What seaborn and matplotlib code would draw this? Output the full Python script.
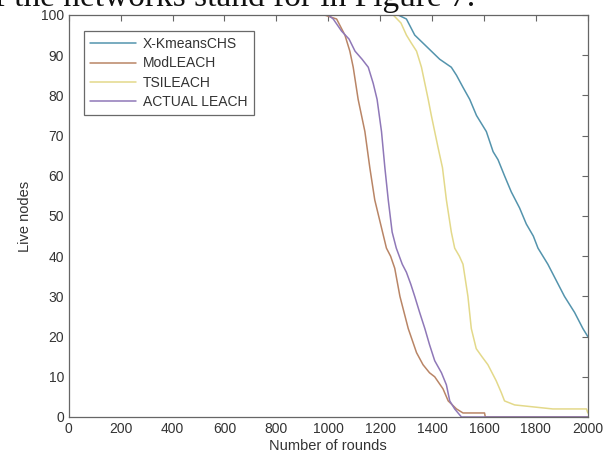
"""Live nodes per round for the four LEACH variants."""

import matplotlib
matplotlib.use("Agg")
import matplotlib.pyplot as plt
import pandas as pd
import seaborn as sns

SERIES = ["X-KmeansCHS", "ModLEACH", "TSILEACH", "ACTUAL LEACH"]
COLORS = ["#5494ad", "#b98566", "#e3d98a", "#8f78b8"]

kmeans_rounds = [0, 1269, 1301, 1333, 1365, 1397, 1429, 1474, 1494, 1519, 1545, 1571, 1609,
                 1635, 1654, 1679, 1705, 1737, 1763, 1790, 1808, 1846, 1878, 1910, 1949, 1981, 2000]
kmeans_nodes = [100, 100, 99, 95, 93, 91, 89, 87, 85, 82, 79, 75, 71,
                66, 64, 60, 56, 52, 48, 45, 42, 38, 34, 30, 26, 22, 20]

mod_rounds = [0, 985, 1032, 1064, 1083, 1096, 1115, 1141, 1160, 1179, 1209, 1224, 1240,
              1256, 1276, 1292, 1308, 1340, 1365, 1390, 1410, 1442, 1462, 1494, 1519, 1602, 1605, 2000]
mod_nodes = [100, 100, 99, 95, 91, 87, 79, 71, 62, 54, 46, 42, 40,
             37, 30, 26, 22, 16, 13, 11, 10, 7, 4, 2, 1, 1, 0, 0]

tsi_rounds = [0, 1250, 1280, 1301, 1320, 1340, 1359, 1372, 1385, 1397, 1410, 1423, 1440,
              1455, 1474, 1487, 1505, 1519, 1538, 1551, 1570, 1592, 1615, 1647, 1667, 1679,
              1718, 1865, 1995, 2000]
tsi_nodes = [100, 100, 98, 95, 93, 91, 87, 83, 79, 75, 71, 67, 62,
             54, 46, 42, 40, 38, 30, 22, 17, 15, 13, 9, 6, 4,
             3, 2, 2, 1]

actual_rounds = [0, 1000, 1019, 1051, 1080, 1103, 1130, 1154, 1173, 1188, 1205, 1218, 1231,
                 1246, 1262, 1285, 1301, 1318, 1333, 1352, 1372, 1390, 1410, 1436, 1455, 1468,
                 1487, 1500, 1513, 2000]
actual_nodes = [100, 100, 99, 96, 94, 91, 89, 87, 83, 79, 71, 62, 54,
                46, 42, 38, 36, 33, 30, 26, 22, 18, 14, 11, 8, 4,
                2, 1, 0, 0]

frames = []
for name, r, n in zip(SERIES,
                      [kmeans_rounds, mod_rounds, tsi_rounds, actual_rounds],
                      [kmeans_nodes, mod_nodes, tsi_nodes, actual_nodes]):
    frames.append(pd.DataFrame({"round": r, "nodes": n, "protocol": name}))
df = pd.concat(frames, ignore_index=True)

sns.set_style("white")
plt.rcParams["font.family"] = ["Liberation Sans", "DejaVu Sans"]

fig = plt.figure(figsize=(6.06, 4.68), dpi=100)
ax = fig.add_axes([0.1135, 0.109, 0.8565, 0.859])

sns.lineplot(data=df, x="round", y="nodes", hue="protocol", hue_order=SERIES,
             palette=dict(zip(SERIES, COLORS)), estimator=None, sort=False,
             linewidth=1.1, ax=ax)

ax.set_xlim(0, 2000)
ax.set_ylim(0, 100)
ax.set_xticks(range(0, 2001, 200))
ax.set_yticks(range(0, 101, 10))
ax.tick_params(direction="in", length=4, width=0.8, colors="#666666",
               labelcolor="#333333", labelsize=10, top=True, right=True)
for s in ax.spines.values():
    s.set_visible(True)
    s.set_color("#666666")
    s.set_linewidth(0.9)
ax.set_xlabel("Number of rounds", fontsize=10.5, color="#333333", labelpad=2)
ax.set_ylabel("Live nodes", fontsize=10.5, color="#333333", labelpad=6)

leg = ax.legend(loc="upper left", bbox_to_anchor=(0.029, 0.96), borderaxespad=0,
                fontsize=10, handlelength=3.3, handletextpad=0.5, labelspacing=0.37,
                fancybox=False, frameon=True, borderpad=0.45)
leg.get_frame().set_edgecolor("#444444")
leg.get_frame().set_linewidth(0.9)
for t in leg.get_texts():
    t.set_color("#333333")

# caption text from the page above, cut by the crop
fig.text(0.785, 1.0 - 6 / 468, "of the networks stand for in Figure 7.",
         ha="right", va="baseline", fontsize=24, family="Liberation Serif", color="#111111")

fig.savefig("out.png", dpi=100)
